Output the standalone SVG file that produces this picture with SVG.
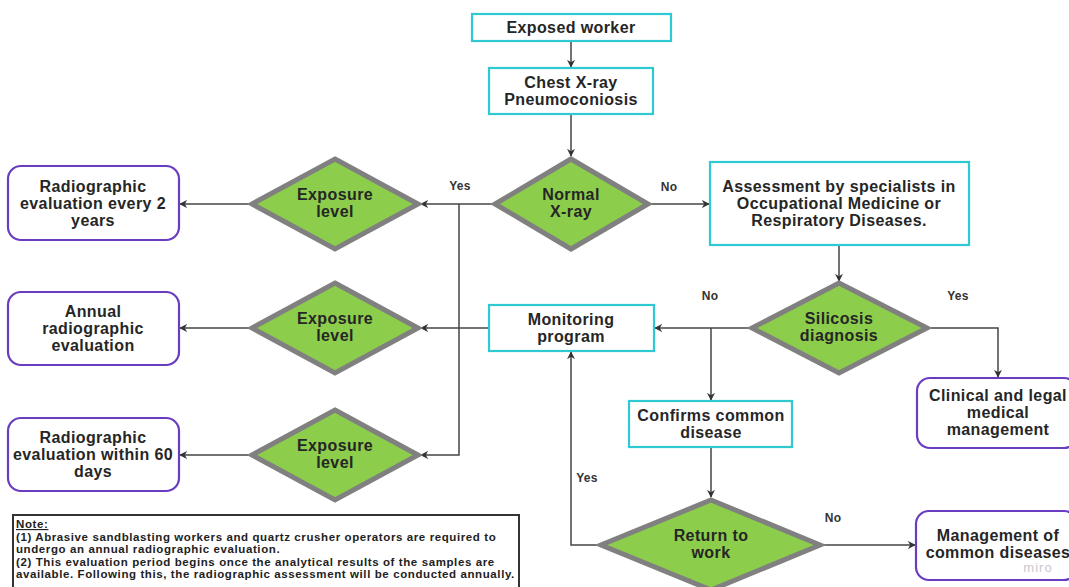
<svg xmlns="http://www.w3.org/2000/svg" width="1069" height="587" viewBox="0 0 1069 587">
<style>
.bg{fill:#fff}
.proc{fill:#fff;stroke:#2fc9d3;stroke-width:2.2}
.term{fill:#fff;stroke:#6a3cc0;stroke-width:2.2}
.dec{fill:#8ccd4b;stroke:#808080;stroke-width:5;stroke-linejoin:miter}
.t{font-family:"Liberation Sans",Arial,sans-serif;font-weight:bold;font-size:16px;letter-spacing:0.4px;fill:#262626;text-anchor:middle}
.lbl{font-family:"Liberation Sans",Arial,sans-serif;font-weight:bold;font-size:12px;letter-spacing:0.3px;fill:#333;text-anchor:middle}
.note{font-family:"Liberation Sans",Arial,sans-serif;font-weight:bold;font-size:11.5px;letter-spacing:0.6px;fill:#222}
.c{fill:none;stroke:#444;stroke-width:1.5}
.ca{fill:none;stroke:#444;stroke-width:1.5;marker-end:url(#ah)}
</style>
<defs>
<marker id="ah" viewBox="0 0 10 10" refX="9" refY="5" markerWidth="8" markerHeight="8" markerUnits="userSpaceOnUse" orient="auto">
<path d="M0,0 L10,5 L0,10 L3,5 Z" fill="#333"/>
</marker>
</defs>
<rect class="bg" x="0" y="0" width="1069" height="587"/>

<g id="connectors">
<path class="ca" d="M571,41 V67"/>
<path class="ca" d="M571,114 V156"/>
<path class="ca" d="M493,204 H421"/>
<path class="ca" d="M459,204 V455 H421"/>
<path class="ca" d="M650,204 H709"/>
<path class="ca" d="M250,204 H180"/>
<path class="ca" d="M250,328 H180"/>
<path class="ca" d="M250,455 H180"/>
<path class="ca" d="M839,245 V281"/>
<path class="ca" d="M750,328 H655"/>
<path class="ca" d="M489,328 H421"/>
<path class="ca" d="M711,328 V400"/>
<path class="ca" d="M929,328 H998 V377"/>
<path class="ca" d="M711,447 V497"/>
<path class="ca" d="M598,545 H571 V352"/>
<path class="ca" d="M823,545 H915"/>
<text class="lbl" x="460" y="190">Yes</text>
<text class="lbl" x="669" y="191">No</text>
<text class="lbl" x="710" y="300">No</text>
<text class="lbl" x="958" y="300">Yes</text>
<text class="lbl" x="587" y="482">Yes</text>
<text class="lbl" x="833" y="522">No</text>
</g>

<g id="exposed-worker">
<rect class="proc" x="472" y="14" width="199" height="27"/>
<text class="t" x="571" y="33">Exposed worker</text>
</g>
<g id="chest-xray">
<rect class="proc" x="489" y="68" width="164" height="46"/>
<text class="t" x="571" y="88">Chest X-ray</text>
<text class="t" x="571" y="105">Pneumoconiosis</text>
</g>
<g id="normal-xray">
<polygon class="dec" points="571,159 648,204 571,249 495,204"/>
<text class="t" x="571" y="200">Normal</text>
<text class="t" x="571" y="217">X-ray</text>
</g>
<g id="assessment">
<rect class="proc" x="710" y="162" width="259" height="83"/>
<text class="t" x="839" y="192">Assessment by specialists in</text>
<text class="t" x="839" y="209">Occupational Medicine or</text>
<text class="t" x="839" y="226">Respiratory Diseases.</text>
</g>
<g id="exposure-1">
<polygon class="dec" points="335,159 418,204 335,249 252,204"/>
<text class="t" x="335" y="200">Exposure</text>
<text class="t" x="335" y="217">level</text>
</g>
<g id="exposure-2">
<polygon class="dec" points="335,283 418,328 335,373 252,328"/>
<text class="t" x="335" y="324">Exposure</text>
<text class="t" x="335" y="341">level</text>
</g>
<g id="exposure-3">
<polygon class="dec" points="335,410 418,455 335,500 252,455"/>
<text class="t" x="335" y="451">Exposure</text>
<text class="t" x="335" y="468">level</text>
</g>
<g id="eval-2-years">
<rect class="term" x="8" y="166" width="171" height="74" rx="13"/>
<text class="t" x="93" y="192">Radiographic</text>
<text class="t" x="93" y="209">evaluation every 2</text>
<text class="t" x="93" y="226">years</text>
</g>
<g id="eval-annual">
<rect class="term" x="8" y="292" width="171" height="73" rx="13"/>
<text class="t" x="93" y="317">Annual</text>
<text class="t" x="93" y="334">radiographic</text>
<text class="t" x="93" y="351">evaluation</text>
</g>
<g id="eval-60-days">
<rect class="term" x="8" y="418" width="171" height="73" rx="13"/>
<text class="t" x="93" y="443">Radiographic</text>
<text class="t" x="93" y="460">evaluation within 60</text>
<text class="t" x="93" y="477">days</text>
</g>
<g id="monitoring">
<rect class="proc" x="489" y="305" width="165" height="46"/>
<text class="t" x="571" y="325">Monitoring</text>
<text class="t" x="571" y="342">program</text>
</g>
<g id="silicosis">
<polygon class="dec" points="839,283 927,328 839,373 752,328"/>
<text class="t" x="839" y="324">Silicosis</text>
<text class="t" x="839" y="341">diagnosis</text>
</g>
<g id="clinical">
<rect class="term" x="917" y="378" width="160" height="70" rx="13"/>
<text class="t" x="998" y="401">Clinical and legal</text>
<text class="t" x="998" y="418">medical</text>
<text class="t" x="998" y="435">management</text>
</g>
<g id="confirms">
<rect class="proc" x="629" y="401" width="163" height="46"/>
<text class="t" x="711" y="421">Confirms common</text>
<text class="t" x="711" y="438">disease</text>
</g>
<g id="return-to-work">
<polygon class="dec" points="711,500 820,545 711,590 601,545"/>
<text class="t" x="711" y="541">Return to</text>
<text class="t" x="711" y="558">work</text>
</g>
<g id="management">
<rect class="term" x="916" y="511" width="161" height="69" rx="13"/>
<text class="t" x="998" y="541">Management of</text>
<text class="t" x="998" y="558">common diseases</text>
<text x="1038" y="572" style="font-family:'Liberation Sans',Arial,sans-serif;font-size:13px;fill:#c8c8d0;text-anchor:middle;letter-spacing:1px">miro</text>
</g>
<g id="note">
<rect x="13" y="515" width="506" height="76" fill="#fff" stroke="#333" stroke-width="2"/>
<text class="note" x="16" y="528" text-decoration="underline">Note:</text>
<text class="note" x="16" y="541">(1) Abrasive sandblasting workers and quartz crusher operators are required to</text>
<text class="note" x="16" y="553">undergo an annual radiographic evaluation.</text>
<text class="note" x="16" y="566">(2) This evaluation period begins once the analytical results of the samples are</text>
<text class="note" x="16" y="578">available. Following this, the radiographic assessment will be conducted annually.</text>
</g>
</svg>
